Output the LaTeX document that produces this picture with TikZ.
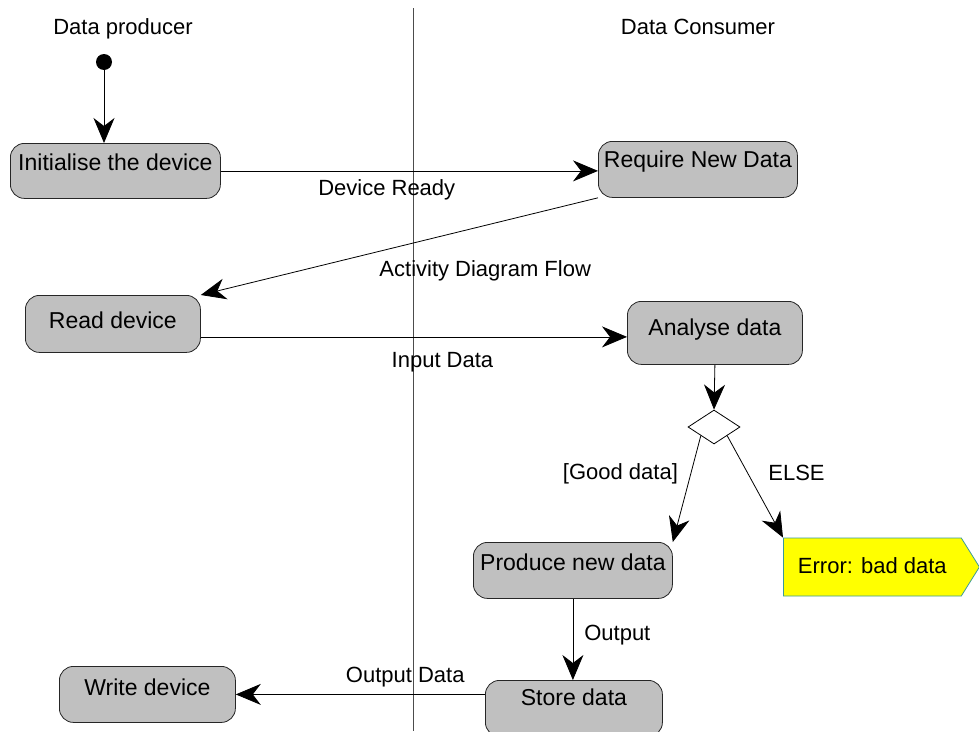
\documentclass[tikz,border=0pt]{standalone}
\usepackage{fontspec}
\setmainfont{Liberation Sans}
\usetikzlibrary{arrows.meta,shapes.geometric,shapes.symbols}
\definecolor{boxgray}{HTML}{C0C0C0}
\definecolor{errfill}{HTML}{FFFF00}
\definecolor{errline}{HTML}{3A9A9A}
\begin{document}
\begin{tikzpicture}[x=1pt,y=-1pt,
  act/.style={draw=black!85, fill=boxgray, rounded corners=14pt, anchor=north west,
    inner xsep=3pt, inner ysep=0pt, font=\fontsize{23}{27}\selectfont, line width=0.8pt},
  lbl/.style={font=\fontsize{22}{26}\selectfont, inner sep=0pt},
  arr/.style={draw=black, line width=0.8pt, -{Stealth[length=25pt,width=21pt,inset=8pt]}},
  lane/.style={draw=black!70, line width=0.8pt}
]
\useasboundingbox (0,0) rectangle (979,731);
\clip (0,0) rectangle (979,731);

% swimlane
\coordinate (laneTop) at (413,8);
\coordinate (laneBot) at (413,731);
\draw[lane] (laneTop) -- (laneBot);
\node[lbl, anchor=base] (hp) at (123,34) {Data producer};
\node[lbl, anchor=base] (hc) at (698,34) {Data Consumer};

% nodes
\node[circle, fill=black, minimum size=16pt, inner sep=0pt] (start) at (104,62) {};
\node[act, minimum width=210pt, text height=27pt, text depth=28pt] (init) at (10,143) {Initialise the device};
\node[act, minimum width=199pt, text height=26pt, text depth=30pt] (req) at (598,141) {Require New Data};
\node[act, minimum width=175pt, text height=33pt, text depth=24pt] (read) at (25,295) {Read device};
\node[act, minimum width=175pt, text height=34pt, text depth=29pt] (ana) at (627,301) {Analyse data};
\node[draw=black, line width=0.8pt, diamond, fill=white, minimum width=52pt, minimum height=34pt, inner sep=0pt] (dec) at (714,427) {};
\node[act, minimum width=199pt, text height=28pt, text depth=28pt] (prod) at (473,542) {Produce new data};
\node[shape=signal, signal to=east, signal pointer angle=116, draw=errline, fill=errfill,
  line width=0.8pt, minimum width=196pt, minimum height=58pt, anchor=west, inner sep=0pt,
  font=\fontsize{22}{26}\selectfont] (err) at (783,567) {\raisebox{2pt}{Error: bad data}};
\node[act, minimum width=177pt, text height=25pt, text depth=31pt] (store) at (485,680) {Store data};
\node[act, minimum width=176pt, text height=29pt, text depth=27pt] (write) at (59,666) {Write device};

% connectors
\draw[arr] (start) -- (start |- init.north);
\draw[arr] (init.east) -- (init.east -| req.west)
  node[lbl, pos=0.44, anchor=base, yshift=-25pt] (l1) {Device Ready};
\draw[arr] (req.south west) -- (read.north east)
  node[lbl, pos=0.284, anchor=base, yshift=-51pt] (l2) {Activity Diagram Flow};
\draw[arr] ([yshift=-13pt]read.east) -- ([yshift=-13pt]read.east -| ana.west)
  node[lbl, pos=0.567, anchor=base, yshift=-31pt] (l3) {Input Data};
\draw[arr] (ana.south) -- (dec.north);
\draw[arr] (dec.south west) -- (prod.north east)
  node[lbl, pos=0.41, anchor=base east, xshift=-11pt] (l4) {[Good data]};
\draw[arr] (dec.south east) -- (err.north west)
  node[lbl, pos=0.444, anchor=base west, xshift=16pt] (l5) {ELSE};
\draw[arr] (prod.south) -- (prod.south |- store.north)
  node[lbl, pos=0.51, anchor=base west, xshift=11pt] (l6) {Output};
\draw[arr] (store.west |- write.east) -- (write.east)
  node[lbl, pos=0.32, anchor=base, yshift=12pt] (l7) {Output Data};
\end{tikzpicture}
\end{document}
